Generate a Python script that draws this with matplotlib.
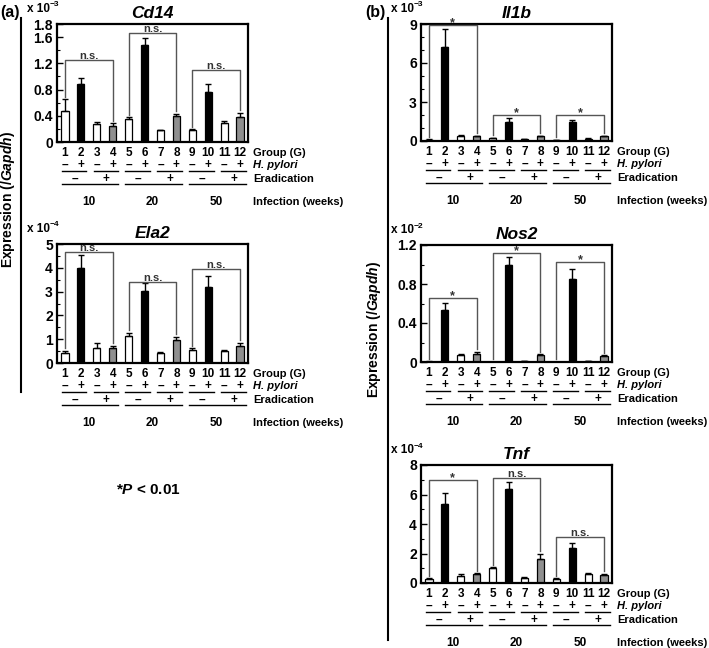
import matplotlib
matplotlib.use('Agg')
import matplotlib.pyplot as plt
from matplotlib.transforms import blended_transform_factory
from matplotlib.ticker import MultipleLocator

plt.rcParams['font.family'] = ['Liberation Sans', 'DejaVu Sans']
plt.rcParams['font.weight'] = 'bold'
plt.rcParams['mathtext.fontset'] = 'custom'
plt.rcParams['mathtext.rm'] = 'Liberation Sans:bold'
plt.rcParams['mathtext.it'] = 'Liberation Sans:italic:bold'

# ---- data (values in units of the panel multiplier) ----
groups = [str(g) for g in range(1, 13)]
hp_signs = ['–', '+'] * 6
erad_signs = ['–', '+'] * 3
weeks = ['10', '20', '50']
bar_colors = ['white', 'black', 'white', '#8f8f8f'] * 3

cd14 = [0.47, 0.88, 0.27, 0.25, 0.35, 1.48, 0.18, 0.39, 0.19, 0.77, 0.29, 0.38]
cd14_err = [0.18, 0.09, 0.03, 0.04, 0.03, 0.11, 0.01, 0.04, 0.01, 0.12, 0.03, 0.07]
cd14_sig = [(1, 4, 1.25, 'n.s.'), (5, 8, 1.66, 'n.s.'), (9, 12, 1.10, 'n.s.')]

ela2 = [0.44, 4.01, 0.65, 0.65, 1.15, 3.04, 0.44, 0.96, 0.56, 3.21, 0.51, 0.73]
ela2_err = [0.08, 0.54, 0.17, 0.08, 0.12, 0.34, 0.04, 0.14, 0.07, 0.45, 0.02, 0.13]
ela2_sig = [(1, 4, 4.65, 'n.s.'), (5, 8, 3.39, 'n.s.'), (9, 12, 3.94, 'n.s.')]

il1b = [0.10, 7.23, 0.38, 0.35, 0.20, 1.50, 0.15, 0.35, 0.08, 1.47, 0.17, 0.35]
il1b_err = [0.03, 1.37, 0.07, 0.05, 0.05, 0.25, 0.03, 0.05, 0.02, 0.18, 0.03, 0.05]
il1b_sig = [(1, 4, 8.93, '*'), (5, 8, 2.03, '*'), (9, 12, 2.03, '*')]

nos2 = [0.005, 0.53, 0.07, 0.084, 0.003, 0.99, 0.008, 0.07, 0.003, 0.85, 0.01, 0.057]
nos2_err = [0.002, 0.08, 0.014, 0.023, 0.001, 0.09, 0.002, 0.01, 0.001, 0.10, 0.002, 0.013]
nos2_sig = [(1, 4, 0.66, '*'), (5, 8, 1.12, '*'), (9, 12, 1.03, '*')]

tnf = [0.29, 5.36, 0.50, 0.59, 1.01, 6.37, 0.36, 1.64, 0.29, 2.39, 0.59, 0.52]
tnf_err = [0.03, 0.74, 0.10, 0.06, 0.07, 0.50, 0.04, 0.34, 0.03, 0.29, 0.09, 0.11]
tnf_sig = [(1, 4, 6.98, '*'), (5, 8, 7.12, 'n.s.'), (9, 12, 3.10, 'n.s.')]

W, H = 709, 648
fig = plt.figure(figsize=(W / 100, H / 100), dpi=100)


def ftext(x, y, s, **kw):
    fig.text(x / W, 1 - y / H, s, **kw)


def add_panel(box, name, vals, errs, sig, ymax, major, minor, ticklabels, expo):
    x0, x1, y0, y1 = box
    hpx = y1 - y0
    ax = fig.add_axes([x0 / W, 1 - y1 / H, (x1 - x0) / W, hpx / H])
    xs = list(range(1, 13))
    ax.bar(xs, vals, width=0.45, color=bar_colors, edgecolor='black',
           linewidth=0.9, zorder=2)
    ax.errorbar(xs, vals, yerr=[[0] * 12, errs], fmt='none', ecolor='black',
                elinewidth=1, capsize=2.2, capthick=1, zorder=3)
    ax.set_xlim(0.5, 12.5)
    ax.set_ylim(0, ymax)
    ax.set_yticks(major)
    ax.set_yticklabels(ticklabels, fontsize=10, fontweight='bold')
    ax.yaxis.set_minor_locator(MultipleLocator(minor))
    ax.tick_params(axis='y', which='both', direction='in', pad=3)
    ax.tick_params(axis='y', which='major', length=4, width=1)
    ax.tick_params(axis='y', which='minor', length=2.5, width=0.8)
    ax.set_xticks([])
    for sp in ax.spines.values():
        sp.set_linewidth(1.6)
    ax.set_title(name, fontsize=12.5, fontweight='bold', style='italic', pad=4)

    # significance brackets
    pad = 0.02 * ymax
    for a, b, h, lab in sig:
        la = vals[a - 1] + errs[a - 1] + pad
        lb = vals[b - 1] + errs[b - 1] + pad
        ax.plot([a, a, b, b], [la, h, h, lb], color='#555555', lw=1,
                zorder=4, clip_on=False)
        if lab == '*':
            ax.annotate(lab, ((a + b) / 2, h), xytext=(0, -3),
                        textcoords='offset points', ha='center', va='bottom',
                        fontsize=9, fontweight='bold', color='#333333',
                        annotation_clip=False)
        else:
            ax.annotate(lab, ((a + b) / 2, h), xytext=(0, -0.5),
                        textcoords='offset points', ha='center', va='bottom',
                        fontsize=8, fontweight='bold', color='#333333',
                        annotation_clip=False)

    # multiplier text
    ftext(x0 - 30, y0 - 15, 'x 10', fontsize=8.5, fontweight='bold', va='center')
    ftext(x0 - 7, y0 - 19, expo, fontsize=6, fontweight='bold', va='center')

    # annotation rows under the axis
    tr = blended_transform_factory(ax.transData, ax.transAxes)
    fy = lambda d: -d / hpx
    for i, g in enumerate(groups):
        ax.text(i + 1, fy(11), g, transform=tr, ha='center', va='center',
                fontsize=8.5, fontweight='bold')
        ax.text(i + 1, fy(23), hp_signs[i], transform=tr, ha='center',
                va='center', fontsize=8.5, fontweight='bold')
    for k in range(6):
        a = 2 * k + 1
        ax.plot([a - 0.2, a + 1.35], [fy(29)] * 2, transform=tr, color='black',
                lw=1, clip_on=False)
    for k in range(3):
        a = 4 * k + 1
        ax.text(a + 0.6, fy(37), erad_signs[0], transform=tr, ha='center',
                va='center', fontsize=8.5, fontweight='bold')
        ax.text(a + 2.6, fy(37), erad_signs[1], transform=tr, ha='center',
                va='center', fontsize=8.5, fontweight='bold')
        ax.plot([a - 0.2, a + 3.35], [fy(42)] * 2, transform=tr, color='black',
                lw=1, clip_on=False)
        ax.text(a + 1.5, fy(60), weeks[k], transform=tr, ha='center',
                va='center', fontsize=8.5, fontweight='bold')
    xr = 1 + 5 / (x1 - x0)
    ax.text(xr, fy(11), 'Group (G)', transform=ax.transAxes, va='center',
            fontsize=8, fontweight='bold')
    ax.text(xr, fy(23), 'H. pylori', transform=ax.transAxes, va='center',
            fontsize=8, fontweight='bold', style='italic')
    ax.text(xr, fy(37), 'Eradication', transform=ax.transAxes, va='center',
            fontsize=8, fontweight='bold')
    ax.text(xr, fy(60), 'Infection (weeks)', transform=ax.transAxes,
            va='center', fontsize=8, fontweight='bold')
    return ax


add_panel((57, 248, 24, 142), 'Cd14', cd14, cd14_err, cd14_sig, 1.8,
          [0, 0.4, 0.8, 1.2, 1.6, 1.8], 0.2,
          ['0', '0.4', '0.8', '1.2', '1.6', '1.8'], '−3')
add_panel((57, 248, 244, 363), 'Ela2', ela2, ela2_err, ela2_sig, 5,
          [0, 1, 2, 3, 4, 5], 0.5, ['0', '1', '2', '3', '4', '5'], '−4')
add_panel((421, 612, 24, 141), 'Il1b', il1b, il1b_err, il1b_sig, 9,
          [0, 3, 6, 9], 1, ['0', '3', '6', '9'], '−3')
add_panel((421, 612, 245, 362), 'Nos2', nos2, nos2_err, nos2_sig, 1.2,
          [0, 0.4, 0.8, 1.2], 0.2, ['0', '0.4', '0.8', '1.2'], '−2')
add_panel((421, 612, 465, 583), 'Tnf', tnf, tnf_err, tnf_sig, 8,
          [0, 2, 4, 6, 8], 1, ['0', '2', '4', '6', '8'], '−4')

# panel labels, side lines and y labels
ftext(0, 13, '(a)', fontsize=11.5, fontweight='bold', va='center')
ftext(365, 13, '(b)', fontsize=11.5, fontweight='bold', va='center')
fig.add_artist(plt.Line2D([21 / W, 21 / W], [1 - 18 / H, 1 - 392 / H],
                          color='black', lw=1.5))
fig.add_artist(plt.Line2D([388 / W, 388 / W], [1 - 18 / H, 1 - 640 / H],
                          color='black', lw=1.5))
ftext(8, 200, r'Expression (/$\mathit{Gapdh}$)', fontsize=10,
      fontweight='bold', rotation=90, ha='center', va='center')
ftext(374, 330, r'Expression (/$\mathit{Gapdh}$)', fontsize=10,
      fontweight='bold', rotation=90, ha='center', va='center')
ftext(148, 490, r'*$\mathit{P}$ < 0.01', fontsize=11, fontweight='bold',
      ha='center', va='center')

fig.savefig('out.png', dpi=100)
